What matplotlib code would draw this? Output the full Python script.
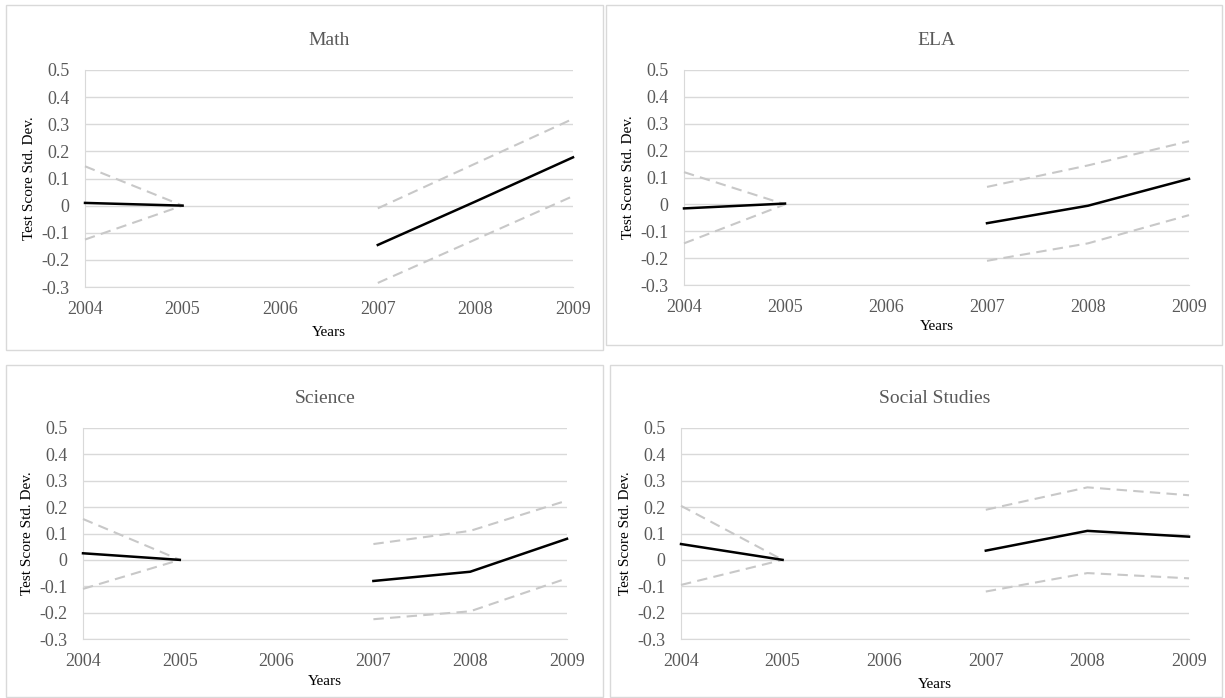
import numpy as np
import matplotlib
matplotlib.use("Agg")
import matplotlib.pyplot as plt
from matplotlib.patches import Rectangle
import matplotlib.ticker as ticker

plt.rcParams['font.family'] = ['Liberation Serif', 'DejaVu Serif']
plt.rcParams['axes.unicode_minus'] = False

years = ['2004', '2005', '2006', '2007', '2008', '2009']
nan = np.nan

# point estimate, upper and lower bound for each subject (2006 missing)
math_est = [0.01, 0.0, nan, -0.145, 0.015, 0.178]
math_hi  = [0.145, 0.0, nan, -0.01, 0.155, 0.32]
math_lo  = [-0.125, 0.0, nan, -0.285, -0.125, 0.035]

ela_est = [-0.015, 0.003, nan, -0.07, -0.005, 0.095]
ela_hi  = [0.12, 0.0, nan, 0.065, 0.145, 0.235]
ela_lo  = [-0.145, 0.0, nan, -0.21, -0.145, -0.04]

sci_est = [0.025, 0.0, nan, -0.08, -0.045, 0.08]
sci_hi  = [0.155, 0.0, nan, 0.06, 0.11, 0.225]
sci_lo  = [-0.11, 0.0, nan, -0.225, -0.195, -0.07]

soc_est = [0.06, 0.0, nan, 0.035, 0.11, 0.088]
soc_hi  = [0.205, 0.0, nan, 0.19, 0.275, 0.245]
soc_lo  = [-0.095, 0.0, nan, -0.12, -0.05, -0.07]

yticks = [-0.3, -0.2, -0.1, 0, 0.1, 0.2, 0.3, 0.4, 0.5]

W, H = 1225, 698
fig = plt.figure(figsize=(W / 100, H / 100), dpi=100)

def px(l, t, r, b):
    return [l / W, 1 - b / H, (r - l) / W, (b - t) / H]

# panel frames (left, top, right, bottom in pixels)
frames = [(6, 5, 603, 350), (606, 5, 1222, 345), (6, 365, 603, 697), (610, 365, 1222, 697)]
for l, t, r, b in frames:
    fig.patches.append(Rectangle((l / W, 1 - b / H), (r - l) / W, (b - t) / H,
                                 transform=fig.transFigure, fill=False,
                                 edgecolor='#d9d9d9', linewidth=1.0))

panels = [
    ('Math', math_est, math_hi, math_lo, px(85, 70, 573, 287), 6),
    ('ELA', ela_est, ela_hi, ela_lo, px(684, 70, 1189, 285), 3),
    ('Science', sci_est, sci_hi, sci_lo, px(83, 428, 567, 639), 4),
    ('Social Studies', soc_est, soc_hi, soc_lo, px(681, 428, 1189, 639), 6),
]

x = np.arange(len(years))
grey = '#595959'
for title, est, hi, lo, rect, lp in panels:
    ax = fig.add_axes(rect)
    ax.plot(x, hi, color='#c8c8c8', lw=1.5, dashes=(5, 3), clip_on=False, zorder=3)
    ax.plot(x, lo, color='#c8c8c8', lw=1.5, dashes=(5, 3), clip_on=False, zorder=3)
    ax.plot(x, est, color='black', lw=1.8, clip_on=False, zorder=4)
    ax.set_xlim(0, len(years) - 1)
    ax.set_ylim(-0.3, 0.5)
    ax.set_xticks(x)
    ax.set_xticklabels(years)
    ax.set_yticks(yticks)
    ax.yaxis.set_major_formatter(ticker.FuncFormatter(lambda v, p: f"{round(v, 2):g}"))
    ax.tick_params(axis='both', length=0, labelsize=13, labelcolor=grey)
    ax.tick_params(axis='x', pad=10)
    ax.tick_params(axis='y', pad=11)
    ax.grid(axis='y', color='#d9d9d9', lw=1.0)
    ax.set_axisbelow(True)
    for s in ['top', 'right']:
        ax.spines[s].set_visible(False)
    for s in ['left', 'bottom']:
        ax.spines[s].set_color('#d9d9d9')
    ax.set_title(title, fontsize=14, color=grey, pad=18)
    ax.set_xlabel('Years', fontsize=11, labelpad=lp)
    ax.set_ylabel('Test Score Std. Dev.', fontsize=11, labelpad=4)

fig.savefig('out.png', dpi=100)
plt.close(fig)
